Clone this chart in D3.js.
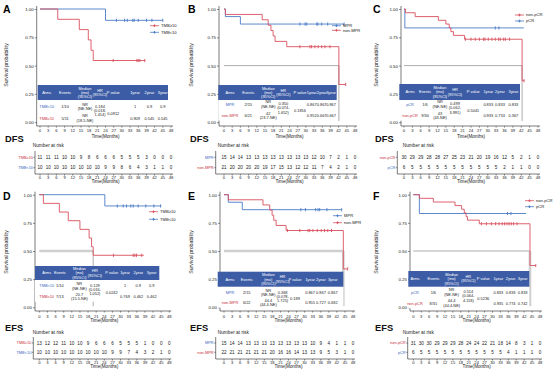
<!DOCTYPE html>
<html><head><meta charset="utf-8">
<script src="https://cdn.jsdelivr.net/npm/d3@7"></script>
<style>body{margin:0;background:#fff}svg{display:block}text{font-family:"Liberation Sans",Arial,sans-serif}</style>
</head><body><svg id="c" width="554" height="376"></svg>
<script>
// ---------- shared ticks ----------
const timeTicks = [0,3,6,9,12,15,18,21,24,27,30,33,36,39,42,45,48];
const survTicks = [0,0.25,0.5,0.75,1];
const tableHeaders = [["Arms"],["Events"],["Median","(mo)","(95%CI)"],["HR","(95%CI)"],["P value"],["1year"],["2year"],["3year"]];

// ---------- Panel A (DFS, TMB) ----------
const A_redCurve = [[0,1],[6.5,0.909],[14.4,0.818],[17.7,0.727],[18.7,0.636],[19.5,0.545],[38.5,0.545]];
const A_redCensor = [26.8,35.5,36,36.6,38.4];
const A_blueCurve = [[0,1],[24,0.9],[45,0.9]];
const A_blueCensor = [28,31,32,34,34.5,36,39,41,45];
const A_redRisk = [11,11,11,10,10,9,8,6,6,6,5,5,5,3,0,0,0];
const A_blueRisk = [10,10,10,10,10,10,10,10,9,9,8,6,4,3,1,1,0];
const A_rows = [["TMB<10","1/10",["NR","(NE-NE)"],"1","0.9","0.9"],["TMB≥10","5/11",["NR","(18.5-NE)"],"0.909","0.545","0.545"]];
const A_hr = ["0.184","(0.018-","1.414)"], A_p = "0.0912";

// ---------- Panel B (DFS, MPR) ----------
const B_blueCurve = [[0,1],[0.5,0.933],[6,0.867],[44,0.867]];
const B_blueCensor = [27.8,29.7,30.3,34,34.4,35.8,38,44];
const B_redCurve = [[0,1],[0.5,0.952],[14,0.905],[16.2,0.857],[17.2,0.81],[18,0.762],[18.7,0.714],[23,0.667],[42.1,0.333],[44.6,0.333]];
const B_redCensor = [27.8,31.5,32.1,33.3,34.5,35.8,37,38.8,44.6];
const B_blueRisk = [15,14,14,13,13,13,13,13,13,13,13,12,10,7,2,1,0];
const B_redRisk = [21,20,20,20,20,19,17,15,13,12,12,11,7,4,2,1,0];
const B_rows = [["MPR","2/15",["NR","(NE-NE)"],"0.867","0.867","0.867"],["non-MPR","6/21",["42","(23.7-NE)"],"0.952","0.667","0.667"]];
const B_hr = ["0.350","(0.074-","1.652)"], B_p = "0.1856";

// ---------- Panel C (DFS, pCR) ----------
const C_blueCurve = [[0,1],[0.3,0.833],[42.9,0.833]];
const C_blueCensor = [32.7,34];
const C_redCurve = [[0,1],[0.5,0.967],[4,0.933],[12.3,0.9],[15,0.867],[16.2,0.833],[16.8,0.8],[17.7,0.767],[21.7,0.733],[42.3,0.367],[43,0.367]];
const C_redCensor = [22,24,25.5,27,28.5,29,30.2,31.5,32.7,33.9,34.5,35.7,36.3,37.8,43];
const C_redRisk = [30,29,29,28,28,27,25,23,21,20,19,16,12,5,2,1,0];
const C_blueRisk = [6,5,5,5,5,5,5,5,5,5,5,5,2,1,1,0,0];
const C_rows = [["pCR","1/6",["NR","(NE-NE)"],"0.833","0.833","0.833"],["non-pCR","9/30",["43","(43-NE)"],"0.933","0.733","0.367"]];
const C_hr = ["0.499","(0.062-","3.991)"], C_p = "0.5041";

// ---------- Panel D (EFS, TMB) ----------
const D_blueCurve = [[0,1],[24.2,0.9],[45,0.9]];
const D_blueCensor = [28.8,31,32.2,33.8,34.7,36.5,39.3,42.3,44.8];
const D_redCurve = [[0,1],[1.5,0.923],[7.4,0.846],[10.7,0.769],[15,0.692],[18.4,0.615],[19.3,0.538],[19.9,0.462],[38.6,0.462]];
const D_redCensor = [27.4,34.7,35.3,35.9,37.8];
const D_redRisk = [13,12,12,11,10,10,9,6,6,6,5,5,5,1,0,0,0];
const D_blueRisk = [10,10,10,10,10,10,10,10,10,9,9,7,4,3,2,1,0];
const D_rows = [["TMB<10","1/10",["NR","(NE-NE)"],"1","0.9","0.9"],["TMB≥10","7/13",["20.7","(15.5-NE)"],"0.769","0.462","0.462"]];
const D_hr = ["0.129","(0.016-","1.052)"], D_p = "0.0242";

// ---------- Panel E (EFS, MPR) ----------
const E_blueCurve = [[0,1],[1.6,0.933],[6.8,0.867],[43.8,0.867]];
const E_blueCensor = [28.6,30.3,34.1,35,35.6,38.3,43.8];
const E_redCurve = [[0,1],[1.6,0.955],[14.5,0.909],[17,0.864],[17.9,0.818],[18.5,0.773],[19.4,0.727],[23.1,0.682],[44.4,0.341],[46,0.341]];
const E_redCensor = [23.6,28.2,31.3,31.9,33.1,34.7,36.2,37.4,38.6,40,46];
const E_blueRisk = [15,14,14,13,13,13,13,13,13,13,13,10,9,4,1,1,0];
const E_redRisk = [22,21,21,21,21,21,20,16,16,14,13,13,9,5,3,1,0];
const E_rows = [["MPR","2/15",["NR","(NE-NE)"],"0.867","0.867","0.867"],["non-MPR","6/22",["44.4","(44.4-NE)"],"0.955","0.727","0.682"]];
const E_hr = ["0.368","(0.078-","1.725)"], E_p = "0.189";

// ---------- Panel F (EFS, pCR) ----------
const F_blueCurve = [[0,1],[2.3,0.833],[42.7,0.833]];
const F_blueCensor = [35.7,37];
const F_redCurve = [[0,1],[2.3,0.968],[7.6,0.935],[15.8,0.903],[18.3,0.871],[19.3,0.839],[20,0.806],[20.5,0.774],[25,0.742],[44.2,0.371],[46.4,0.371]];
const F_redCensor = [25.8,27.7,29.6,31.2,32.5,33.7,34.6,35.5,36.3,37.1,38,39.3,46.4];
const F_redRisk = [31,30,30,29,29,29,28,24,24,22,21,18,14,8,3,1,0];
const F_blueRisk = [6,5,5,5,5,5,5,5,5,5,5,5,4,1,1,1,0];
const F_rows = [["pCR","1/6",["NR","(NE-NE)"],"0.833","0.833","0.833"],["non-pCR","8/31",["44.4","(44.4-NE)"],"0.935","0.774","0.742"]];
const F_hr = ["0.514","(0.064-","4.118)"], F_p = "0.5236";

// ---------- styling ----------
const RED = "#d9505e", BLUE = "#4a7cc6", RED_T = "#c8303c", BLUE_T = "#3a68c2", HEAD = "#3c5ca6";
const rowLayout = {
  top:    {y1:9,   y0:122.2, xAxisY:126, tickLab:131, title:136, endLab:141.7, nar:145.7, r1:157.3, r2:167.7, rTop:151, rAxisY:174, rTickLab:177.8, rTitle:181.6, ylab:65},
  bottom: {y1:4.7, y0:117.3, xAxisY:121, tickLab:126.3, title:130.2, endLab:140.6, nar:142.3, r1:153, r2:162.3, rTop:147, rAxisY:169, rTickLab:172.8, rTitle:176.8, ylab:62}
};

const panels = [
 {id:"A", kind:"DFS", ox:0, oy:0, L:"top", axisX:36.7, x0:40, x1:171, rAxisX:35,
  series:{red:[A_redCurve,A_redCensor], blue:[A_blueCurve,A_blueCensor]},
  legend:[["TMB≥10",RED],["TMB<10",BLUE]], leg:[150,25.7,6.6],
  risk:[["TMB≥10",RED_T,A_redRisk],["TMB<10",BLUE_T,A_blueRisk]],
  rows:A_rows, rowCol:[BLUE_T,RED_T], hr:A_hr, p:A_p,
  tbl:{x:37.7,y:85,w:130.3,h:15,r1:106.7,r2:118.3,cols:[0.069,0.21,0.363,0.478,0.58,0.747,0.857,0.959]},
  median:null},
 {id:"B", kind:"DFS", ox:185, oy:0, L:"top", axisX:34, x0:39, x1:170, rAxisX:30.7,
  series:{red:[B_redCurve,B_redCensor], blue:[B_blueCurve,B_blueCensor]},
  legend:[["MPR",BLUE],["non-MPR",RED]], leg:[147,25.7,4.6],
  risk:[["MPR",BLUE_T,B_blueRisk],["non-MPR",RED_T,B_redRisk]],
  rows:B_rows, rowCol:[BLUE_T,RED_T], hr:B_hr, p:B_p,
  tbl:{x:33.3,y:85,w:118.4,h:15,r1:104.3,r2:115.7,cols:[0.099,0.253,0.422,0.549,0.69,0.789,0.873,0.952]},
  median:{t:42.1, hw:0.7, hc:"#8a8a8a", vw:0.7, vc:"#8a8a8a"}},
 {id:"C", kind:"DFS", ox:370, oy:0, L:"top", axisX:31, x0:34, x1:168, rAxisX:27.3,
  series:{red:[C_redCurve,C_redCensor], blue:[C_blueCurve,C_blueCensor]},
  legend:[["non-pCR",RED],["pCR",BLUE]], leg:[145,15,6],
  risk:[["non-pCR",RED_T,C_redRisk],["pCR",BLUE_T,C_blueRisk]],
  rows:C_rows, rowCol:[BLUE_T,RED_T], hr:C_hr, p:C_p,
  tbl:{x:29.3,y:84,w:120.7,h:16,r1:104.3,r2:115.7,cols:[0.089,0.213,0.337,0.461,0.613,0.737,0.834,0.945]},
  median:{t:42.3, hw:0.7, hc:"#8a8a8a", vw:0.7, vc:"#8a8a8a"}},
 {id:"D", kind:"EFS", ox:0, oy:190, L:"bottom", axisX:35, x0:39.3, x1:169.3, rAxisX:33.3,
  series:{red:[D_redCurve,D_redCensor], blue:[D_blueCurve,D_blueCensor]},
  legend:[["TMB≥10",RED],["TMB<10",BLUE]], leg:[149,21.7,7.6],
  risk:[["TMB≥10",RED_T,D_redRisk],["TMB<10",BLUE_T,D_blueRisk]],
  rows:D_rows, rowCol:[BLUE_T,RED_T], hr:D_hr, p:D_p,
  tbl:{x:35,y:76,w:124.3,h:14,r1:96,r2:106.7,cols:[0.094,0.2,0.357,0.482,0.617,0.724,0.831,0.939]},
  median:{t:19.9, hw:2.6, hc:"#cfcfcf", vw:0.7, vc:"#8a8a8a"}},
 {id:"E", kind:"EFS", ox:185, oy:190, L:"bottom", axisX:35, x0:39, x1:168, rAxisX:30.7,
  series:{red:[E_redCurve,E_redCensor], blue:[E_blueCurve,E_blueCensor]},
  legend:[["MPR",BLUE],["non-MPR",RED]], leg:[148,25.7,7],
  risk:[["MPR",BLUE_T,E_blueRisk],["non-MPR",RED_T,E_redRisk]],
  rows:E_rows, rowCol:[BLUE_T,RED_T], hr:E_hr, p:E_p,
  tbl:{x:32.7,y:81.7,w:125.6,h:15,r1:102.7,r2:112.7,cols:[0.098,0.231,0.403,0.517,0.615,0.735,0.822,0.916]},
  median:{t:44.4, hw:2.6, hc:"#cfcfcf", vw:2.6, vc:"#cfcfcf"}},
 {id:"F", kind:"EFS", ox:370, oy:190, L:"bottom", axisX:40, x0:43.3, x1:170, rAxisX:37.7,
  series:{red:[F_redCurve,F_redCensor], blue:[F_blueCurve,F_blueCensor]},
  legend:[["non-pCR",RED],["pCR",BLUE]], leg:[155,10.7,6],
  risk:[["non-pCR",RED_T,F_redRisk],["pCR",BLUE_T,F_blueRisk]],
  rows:F_rows, rowCol:[BLUE_T,RED_T], hr:F_hr, p:F_p,
  tbl:{x:38.3,y:81,w:121,h:15.7,r1:102.3,r2:113.3,cols:[0.055,0.207,0.358,0.496,0.62,0.744,0.846,0.945]},
  median:{t:44.2, hw:0.7, hc:"#8a8a8a", vw:2.6, vc:"#cfcfcf"}}
];

const svg = d3.select("#c");
function stepVal(curve, t){ let v = curve[0][1]; for (const p of curve) if (p[0] <= t) v = p[1]; return v; }
function cross(g, cx, cy, col, s){
  g.append("line").attr("x1",cx).attr("x2",cx).attr("y1",cy-s).attr("y2",cy+s).attr("stroke",col).attr("stroke-width",0.8);
  g.append("line").attr("x1",cx-s).attr("x2",cx+s).attr("y1",cy).attr("y2",cy).attr("stroke",col).attr("stroke-width",0.8);
}
function timeAxis(g, x, yPos, xs, labY, titleY, mid){
  g.append("line").attr("x1",xs).attr("x2",x.range()[1]+2).attr("y1",yPos).attr("y2",yPos).attr("stroke","#222").attr("stroke-width",0.6);
  timeTicks.forEach(t=>{
    g.append("line").attr("x1",x(t)).attr("x2",x(t)).attr("y1",yPos).attr("y2",yPos+1.6).attr("stroke","#222").attr("stroke-width",0.5);
    g.append("text").attr("x",x(t)).attr("y",labY).attr("dy","0.35em").attr("text-anchor","middle").attr("font-size",4.1).attr("fill","#222").text(t);
  });
  g.append("text").attr("x",mid).attr("y",titleY).attr("dy","0.35em").attr("text-anchor","middle").attr("font-size",4.6).attr("fill","#222").text("Time(Months)");
}

panels.forEach(P=>{
  const L = rowLayout[P.L];
  const g = svg.append("g").attr("transform",`translate(${P.ox},${P.oy})`);
  const x = d3.scaleLinear().domain([0,48]).range([P.x0,P.x1]);
  const y = d3.scaleLinear().domain([0,1]).range([L.y0,L.y1]);
  const mid = (P.x0+P.x1)/2;

  // panel letter
  g.append("text").attr("x",3).attr("y",P.oy? 9.5:12.5).attr("font-size",10.5).attr("font-weight","bold").text(P.id);

  // y axis
  g.append("line").attr("x1",P.axisX).attr("x2",P.axisX).attr("y1",L.y1-3).attr("y2",L.xAxisY).attr("stroke","#222").attr("stroke-width",0.6);
  const ya = d3.axisLeft(y).tickValues(survTicks).tickFormat(d3.format(".2f")).tickSize(2).tickSizeOuter(0);
  const yg = g.append("g").attr("transform",`translate(${P.axisX},0)`).call(ya);
  yg.select(".domain").remove();
  yg.selectAll("line").attr("stroke","#222").attr("stroke-width",0.5);
  yg.selectAll("text").attr("font-size",4.4).attr("fill","#222").attr("x",-3);
  g.append("text").attr("transform",`translate(8,${L.ylab}) rotate(-90)`).attr("text-anchor","middle").attr("font-size",5.2).attr("fill","#222").text("Survival probability");

  // x axis (plot)
  timeAxis(g, x, L.xAxisY, P.axisX, L.tickLab, L.title, mid);

  // median reference lines
  if (P.median){
    const M = P.median;
    g.append("line").attr("x1",x(0)).attr("x2",x(M.t)).attr("y1",y(0.5)).attr("y2",y(0.5)).attr("stroke",M.hc).attr("stroke-width",M.hw);
    g.append("line").attr("x1",x(M.t)).attr("x2",x(M.t)).attr("y1",y(0.5)).attr("y2",y(0.01)).attr("stroke",M.vc).attr("stroke-width",M.vw);
  }

  // curves
  const line = d3.line().curve(d3.curveStepAfter).x(d=>x(d[0])).y(d=>y(d[1]));
  [["blue",BLUE],["red",RED]].forEach(([k,col])=>{
    const [curve, cens] = P.series[k];
    g.append("path").attr("d",line(curve)).attr("fill","none").attr("stroke",col).attr("stroke-width",0.9);
    cens.forEach(t=>{
      const cx = x(t), cy = y(stepVal(curve,t));
      g.append("line").attr("x1",cx).attr("x2",cx).attr("y1",cy-1.6).attr("y2",cy+1.6).attr("stroke",col).attr("stroke-width",0.9);
    });
  });

  // legend
  P.legend.forEach(([name,col],i)=>{
    const ly = P.leg[1] + i*P.leg[2], lx = P.leg[0];
    g.append("line").attr("x1",lx).attr("x2",lx+9).attr("y1",ly).attr("y2",ly).attr("stroke",col).attr("stroke-width",0.8);
    cross(g, lx+4.5, ly, col, 1.4);
    g.append("text").attr("x",lx+11).attr("y",ly).attr("dy","0.35em").attr("font-size",4.1).attr("fill","#222").text(name);
  });

  // summary table
  const T = P.tbl;
  const cx = T.cols.map(f=>T.x + f*T.w);
  g.append("rect").attr("x",T.x).attr("y",T.y+T.h).attr("width",T.w).attr("height",T.r2+5-(T.y+T.h)).attr("fill","#fff");
  g.append("rect").attr("x",T.x).attr("y",T.y).attr("width",T.w).attr("height",T.h).attr("fill",HEAD);
  tableHeaders.forEach((lines,i)=>{
    const n = lines.length, cy = T.y + T.h/2;
    lines.forEach((s,j)=>{
      g.append("text").attr("x",cx[i]).attr("y",cy+(j-(n-1)/2)*4.3).attr("dy","0.35em").attr("text-anchor","middle")
       .attr("font-size",3.9).attr("fill","#fff").text(s);
    });
  });
  const rys = [T.r1, T.r2];
  P.rows.forEach((r,ri)=>{
    const ry = rys[ri];
    const txt = (i,s,yy,col)=>g.append("text").attr("x",cx[i]).attr("y",yy).attr("dy","0.35em").attr("text-anchor","middle").attr("font-size",3.9).attr("fill",col||"#222").text(s);
    txt(0,r[0],ry,P.rowCol[ri]);
    txt(1,r[1],ry);
    txt(2,r[2][0],ry-2.2); txt(2,r[2][1],ry+2.2);
    txt(5,r[3],ry); txt(6,r[4],ry); txt(7,r[5],ry);
  });
  const hm = (T.r1+T.r2)/2;
  P.hr.forEach((s,j)=>g.append("text").attr("x",cx[3]).attr("y",T.r1-0.5+j*4.2).attr("dy","0.35em").attr("text-anchor","middle").attr("font-size",3.9).attr("fill","#222").text(s));
  g.append("text").attr("x",cx[4]).attr("y",hm+1).attr("dy","0.35em").attr("text-anchor","middle").attr("font-size",3.9).attr("fill","#222").text(P.p);

  // end-point label and risk table
  g.append("text").attr("x",5).attr("y",L.endLab).attr("font-size",9.3).attr("font-weight","bold").attr("fill","#111").text(P.kind);
  g.append("text").attr("x",32.7).attr("y",L.nar).attr("dy","0.35em").attr("font-size",4.8).attr("fill","#222").text("Number at risk");
  g.append("line").attr("x1",P.rAxisX).attr("x2",P.rAxisX).attr("y1",L.rTop).attr("y2",L.rAxisY).attr("stroke","#222").attr("stroke-width",0.6);
  [L.r1, L.r2].forEach((ry,ri)=>{
    const [lab,col,vals] = P.risk[ri];
    g.append("line").attr("x1",P.rAxisX-1.5).attr("x2",P.rAxisX).attr("y1",ry).attr("y2",ry).attr("stroke","#222").attr("stroke-width",0.5);
    g.append("text").attr("x",P.rAxisX-2).attr("y",ry).attr("dy","0.35em").attr("text-anchor","end").attr("font-size",3.9).attr("fill",col).text(lab);
    vals.forEach((v,i)=>g.append("text").attr("x",x(timeTicks[i])).attr("y",ry).attr("dy","0.35em").attr("text-anchor","middle").attr("font-size",4.6).attr("fill","#222").text(v));
  });
  timeAxis(g, x, L.rAxisY, P.rAxisX, L.rTickLab, L.rTitle, mid);
});
</script></body></html>
